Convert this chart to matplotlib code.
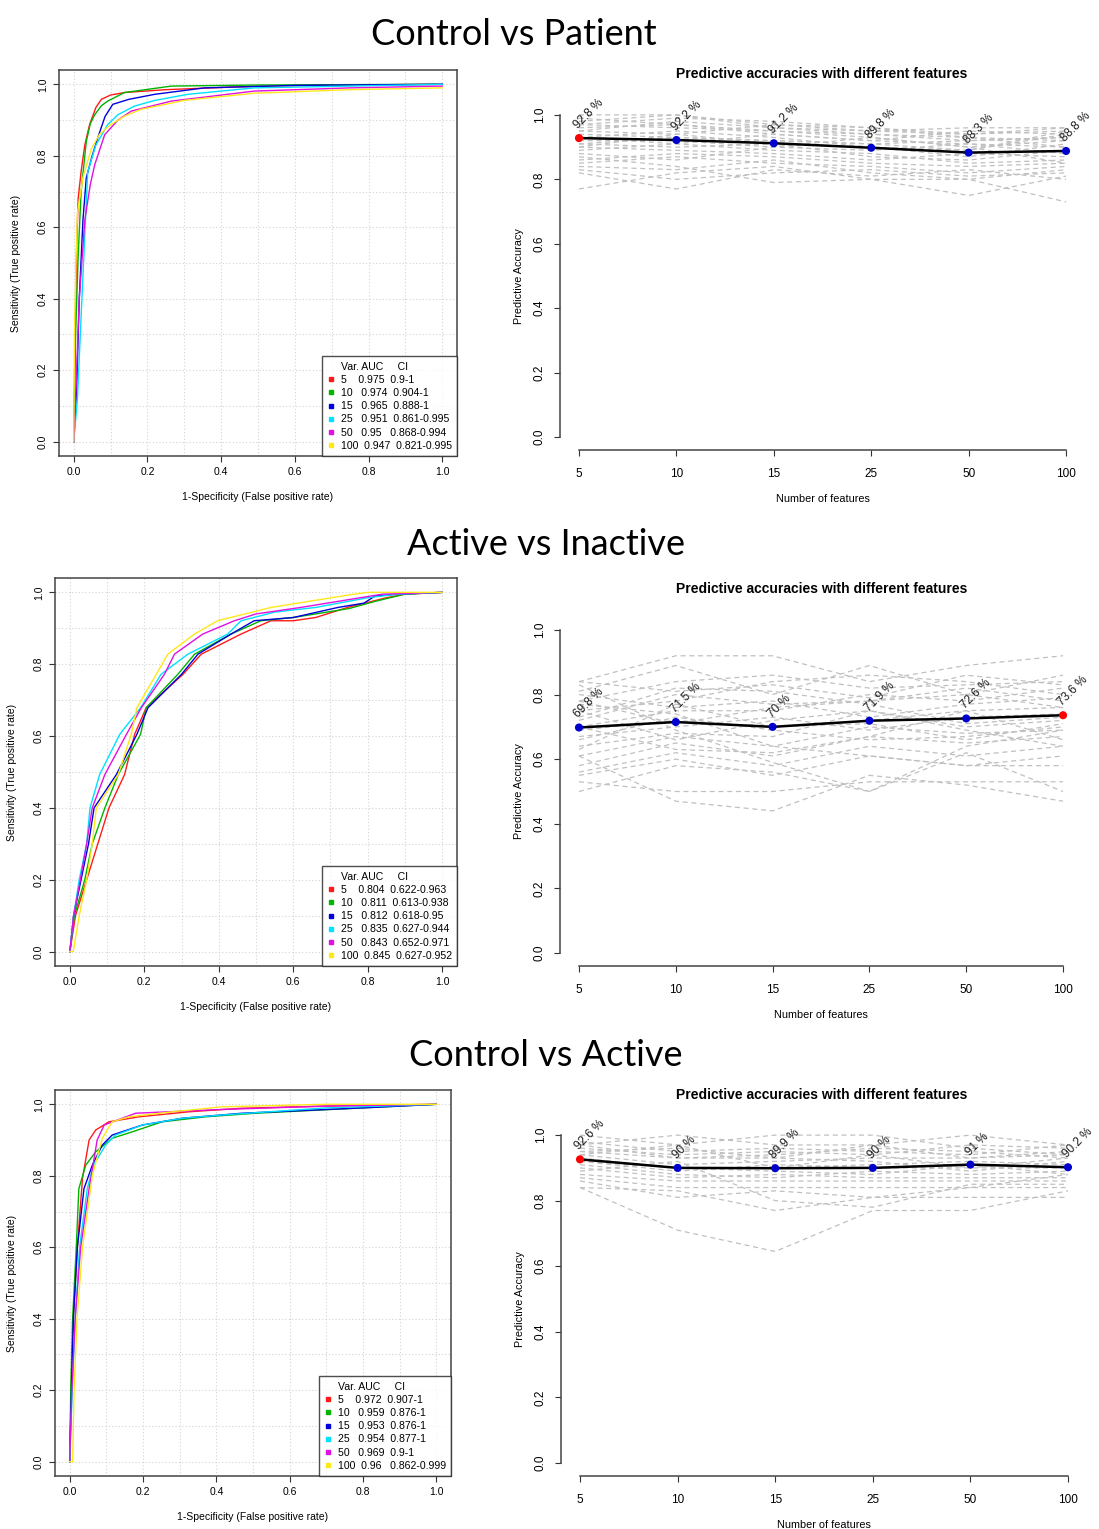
import numpy as np
import matplotlib
matplotlib.use("Agg")
from matplotlib import pyplot as plt
from matplotlib.lines import Line2D

W, H = 1099, 1529

plt.rcParams['font.family'] = ['Liberation Sans', 'DejaVu Sans']

panel_titles = ["Control vs Patient", "Active vs Inactive", "Control vs Active"]
n_features = ["5", "10", "15", "25", "50", "100"]
roc_colors = ["#FF1A1A", "#00B400", "#0000DC", "#00E1FF", "#E010E0", "#FFE81A"]

# ---- Control vs Patient ----
cp_auc = ["0.975", "0.974", "0.965", "0.951", "0.95", "0.947"]
cp_ci = ["0.9-1", "0.904-1", "0.888-1", "0.861-0.995", "0.868-0.994", "0.821-0.995"]
cp_fpr = [
    [0, 0.003, 0.008, 0.012, 0.02, 0.03, 0.043, 0.06, 0.075, 0.1, 0.138, 0.25, 0.45, 0.7, 1.0],
    [0, 0.005, 0.012, 0.02, 0.034, 0.045, 0.057, 0.075, 0.092, 0.138, 0.265, 0.5, 1.0],
    [0, 0.008, 0.015, 0.025, 0.034, 0.05, 0.065, 0.085, 0.106, 0.15, 0.22, 0.355, 0.6, 1.0],
    [0, 0.01, 0.02, 0.03, 0.038, 0.06, 0.092, 0.12, 0.165, 0.22, 0.31, 0.49, 0.75, 1.0],
    [0, 0.006, 0.015, 0.03, 0.045, 0.057, 0.084, 0.12, 0.156, 0.265, 0.49, 0.75, 1.0],
    [0, 0.002, 0.006, 0.01, 0.025, 0.048, 0.07, 0.1, 0.14, 0.183, 0.3, 0.49, 0.75, 1.0],
]
cp_tpr = [
    [0, 0.25, 0.55, 0.68, 0.756, 0.83, 0.887, 0.935, 0.958, 0.97, 0.977, 0.985, 0.993, 0.998, 1.0],
    [0, 0.3, 0.52, 0.7, 0.84, 0.89, 0.915, 0.94, 0.953, 0.977, 0.995, 0.998, 1.0],
    [0, 0.15, 0.4, 0.62, 0.738, 0.8, 0.85, 0.91, 0.944, 0.958, 0.972, 0.99, 0.997, 1.0],
    [0, 0.12, 0.35, 0.58, 0.755, 0.83, 0.887, 0.915, 0.939, 0.955, 0.972, 0.99, 0.995, 1.0],
    [0, 0.15, 0.4, 0.62, 0.72, 0.775, 0.859, 0.9, 0.925, 0.953, 0.981, 0.99, 0.995],
    [0, 0.3, 0.5, 0.64, 0.74, 0.82, 0.86, 0.887, 0.912, 0.93, 0.955, 0.975, 0.985, 0.99],
]
cp_acc = [92.8, 92.2, 91.2, 89.8, 88.3, 88.8]
cp_folds = [
    [1.00, 1.00, 0.97, 0.95, 0.94, 0.96],
    [0.98, 1.00, 0.96, 0.94, 0.92, 0.93],
    [0.97, 0.96, 0.95, 0.93, 0.90, 0.92],
    [0.96, 0.97, 0.94, 0.92, 0.95, 0.94],
    [0.95, 0.94, 0.97, 0.96, 0.93, 0.90],
    [0.94, 0.93, 0.92, 0.91, 0.89, 0.95],
    [0.93, 0.95, 0.93, 0.90, 0.87, 0.91],
    [0.92, 0.92, 0.90, 0.89, 0.91, 0.88],
    [0.91, 0.90, 0.91, 0.87, 0.86, 0.89],
    [0.90, 0.89, 0.88, 0.86, 0.88, 0.87],
    [0.89, 0.91, 0.89, 0.88, 0.85, 0.86],
    [0.86, 0.88, 0.87, 0.85, 0.84, 0.85],
    [0.85, 0.87, 0.85, 0.84, 0.82, 0.84],
    [0.84, 0.83, 0.86, 0.82, 0.80, 0.83],
    [0.83, 0.80, 0.82, 0.83, 0.81, 0.82],
    [0.77, 0.82, 0.84, 0.80, 0.75, 0.81],
    [0.82, 0.77, 0.83, 0.81, 0.83, 0.80],
    [0.87, 0.84, 0.79, 0.80, 0.80, 0.73],
    [0.95, 0.98, 0.96, 0.95, 0.96, 0.96],
    [0.97, 0.99, 0.98, 0.96, 0.94, 0.95],
    [0.91, 0.93, 0.92, 0.91, 0.92, 0.93],
    [0.88, 0.86, 0.90, 0.93, 0.90, 0.85],
    [0.99, 0.97, 0.95, 0.94, 0.93, 0.92],
    [0.93, 0.91, 0.94, 0.92, 0.91, 0.90],
    [0.90, 0.94, 0.91, 0.90, 0.89, 0.94],
]

# ---- Active vs Inactive ----
ai_auc = ["0.804", "0.811", "0.812", "0.835", "0.843", "0.845"]
ai_ci = ["0.622-0.963", "0.613-0.938", "0.618-0.95", "0.627-0.944", "0.652-0.971", "0.627-0.952"]
ai_fpr = [
    [0, 0.015, 0.045, 0.075, 0.105, 0.147, 0.174, 0.205, 0.304, 0.353, 0.46, 0.54, 0.6, 0.66, 0.746, 0.85, 0.9, 1.0],
    [0, 0.012, 0.04, 0.06, 0.094, 0.13, 0.19, 0.205, 0.29, 0.335, 0.433, 0.513, 0.6, 0.75, 0.82, 0.9, 1.0],
    [0, 0.01, 0.03, 0.05, 0.065, 0.125, 0.18, 0.21, 0.30, 0.344, 0.433, 0.495, 0.6, 0.72, 0.79, 0.82, 0.88, 1.0],
    [0, 0.01, 0.025, 0.045, 0.054, 0.08, 0.134, 0.19, 0.245, 0.317, 0.424, 0.46, 0.55, 0.66, 0.8, 0.88, 1.0],
    [0, 0.01, 0.028, 0.045, 0.06, 0.094, 0.152, 0.192, 0.254, 0.281, 0.357, 0.442, 0.5, 0.62, 0.78, 0.84, 1.0],
    [0, 0.009, 0.025, 0.045, 0.06, 0.071, 0.13, 0.165, 0.18, 0.232, 0.263, 0.335, 0.397, 0.54, 0.763, 0.8, 1.0],
]
ai_tpr = [
    [0, 0.1, 0.2, 0.3, 0.4, 0.493, 0.605, 0.679, 0.772, 0.828, 0.884, 0.921, 0.921, 0.93, 0.958, 0.985, 0.995, 1.0],
    [0, 0.1, 0.2, 0.3, 0.4, 0.493, 0.605, 0.679, 0.772, 0.828, 0.884, 0.921, 0.93, 0.955, 0.975, 0.995, 1.0],
    [0, 0.1, 0.2, 0.3, 0.4, 0.493, 0.605, 0.679, 0.772, 0.828, 0.884, 0.921, 0.93, 0.958, 0.97, 0.99, 0.995, 1.0],
    [0, 0.1, 0.2, 0.3, 0.4, 0.493, 0.605, 0.679, 0.772, 0.828, 0.884, 0.921, 0.945, 0.958, 0.985, 0.995, 1.0],
    [0, 0.1, 0.2, 0.3, 0.4, 0.493, 0.605, 0.679, 0.772, 0.828, 0.884, 0.921, 0.94, 0.958, 0.985, 0.995, 1.0],
    [0, 0.0, 0.1, 0.2, 0.3, 0.4, 0.493, 0.605, 0.679, 0.772, 0.828, 0.884, 0.921, 0.958, 0.995, 1.0, 1.0],
]
ai_acc = [69.8, 71.5, 70, 71.9, 72.6, 73.6]
ai_folds = [
    [0.84, 0.92, 0.92, 0.84, 0.89, 0.92],
    [0.81, 0.89, 0.80, 0.89, 0.80, 0.86],
    [0.78, 0.84, 0.86, 0.82, 0.83, 0.84],
    [0.75, 0.78, 0.84, 0.86, 0.84, 0.80],
    [0.72, 0.80, 0.77, 0.78, 0.82, 0.78],
    [0.70, 0.75, 0.75, 0.80, 0.78, 0.82],
    [0.69, 0.72, 0.70, 0.72, 0.75, 0.76],
    [0.67, 0.70, 0.73, 0.69, 0.73, 0.74],
    [0.64, 0.68, 0.67, 0.75, 0.70, 0.72],
    [0.61, 0.67, 0.64, 0.70, 0.68, 0.69],
    [0.58, 0.65, 0.61, 0.67, 0.65, 0.67],
    [0.56, 0.62, 0.58, 0.64, 0.61, 0.64],
    [0.55, 0.60, 0.55, 0.61, 0.58, 0.61],
    [0.50, 0.58, 0.56, 0.50, 0.64, 0.69],
    [0.53, 0.50, 0.50, 0.53, 0.53, 0.53],
    [0.61, 0.47, 0.44, 0.55, 0.52, 0.47],
    [0.83, 0.69, 0.59, 0.50, 0.62, 0.50],
    [0.77, 0.74, 0.64, 0.61, 0.58, 0.58],
    [0.80, 0.76, 0.78, 0.73, 0.77, 0.79],
    [0.73, 0.82, 0.81, 0.77, 0.71, 0.73],
    [0.66, 0.73, 0.69, 0.66, 0.67, 0.70],
    [0.75, 0.66, 0.72, 0.75, 0.69, 0.64],
    [0.84, 0.81, 0.83, 0.79, 0.86, 0.83],
    [0.70, 0.63, 0.62, 0.67, 0.75, 0.66],
    [0.78, 0.71, 0.76, 0.78, 0.80, 0.76],
    [0.63, 0.77, 0.70, 0.71, 0.66, 0.71],
]

# ---- Control vs Active ----
ca_auc = ["0.972", "0.959", "0.953", "0.954", "0.969", "0.96"]
ca_ci = ["0.907-1", "0.876-1", "0.876-1", "0.877-1", "0.9-1", "0.862-0.999"]
ca_fpr = [
    [0, 0.004, 0.01, 0.021, 0.035, 0.053, 0.071, 0.107, 0.189, 0.325, 0.47, 0.7, 1.0],
    [0, 0.003, 0.008, 0.018, 0.025, 0.044, 0.071, 0.116, 0.171, 0.252, 0.371, 0.507, 0.8, 1.0],
    [0, 0.005, 0.01, 0.021, 0.039, 0.062, 0.089, 0.116, 0.198, 0.307, 0.47, 0.8, 1.0],
    [0, 0.007, 0.015, 0.027, 0.048, 0.065, 0.098, 0.125, 0.198, 0.307, 0.416, 0.7, 1.0],
    [0, 0.006, 0.015, 0.03, 0.053, 0.075, 0.094, 0.18, 0.4, 0.7, 1.0],
    [0, 0.008, 0.012, 0.02, 0.035, 0.062, 0.089, 0.116, 0.162, 0.28, 0.416, 0.7, 1.0],
]
ca_tpr = [
    [0, 0.2, 0.4, 0.6, 0.793, 0.9, 0.928, 0.951, 0.965, 0.979, 0.989, 0.995, 1.0],
    [0, 0.2, 0.4, 0.6, 0.764, 0.83, 0.867, 0.905, 0.923, 0.951, 0.965, 0.975, 0.99, 1.0],
    [0, 0.2, 0.4, 0.6, 0.764, 0.83, 0.886, 0.914, 0.942, 0.961, 0.975, 0.99, 1.0],
    [0, 0.2, 0.4, 0.6, 0.764, 0.83, 0.886, 0.914, 0.942, 0.961, 0.97, 0.99, 1.0],
    [0, 0.2, 0.4, 0.6, 0.764, 0.9, 0.942, 0.975, 0.985, 0.995, 1.0],
    [0, 0.0, 0.2, 0.4, 0.6, 0.802, 0.905, 0.951, 0.965, 0.979, 0.993, 1.0, 1.0],
]
ca_acc = [92.6, 90, 89.9, 90, 91, 90.2]
ca_folds = [
    [1.00, 0.97, 1.00, 1.00, 0.96, 0.94],
    [0.97, 1.00, 0.97, 0.97, 1.00, 0.97],
    [0.96, 0.94, 0.95, 0.94, 0.97, 0.96],
    [0.95, 0.93, 0.94, 0.96, 0.95, 0.93],
    [0.94, 0.91, 0.92, 0.93, 0.93, 0.94],
    [0.93, 0.90, 0.90, 0.91, 0.92, 0.91],
    [0.92, 0.89, 0.91, 0.90, 0.90, 0.90],
    [0.91, 0.88, 0.87, 0.89, 0.88, 0.89],
    [0.90, 0.87, 0.88, 0.87, 0.87, 0.87],
    [0.88, 0.86, 0.86, 0.86, 0.86, 0.86],
    [0.87, 0.84, 0.84, 0.84, 0.84, 0.84],
    [0.86, 0.81, 0.83, 0.81, 0.81, 0.81],
    [0.84, 0.71, 0.645, 0.77, 0.77, 0.83],
    [0.84, 0.83, 0.77, 0.81, 0.84, 0.88],
    [0.89, 0.92, 0.80, 0.78, 0.85, 0.85],
    [0.95, 0.96, 0.93, 0.92, 0.89, 0.92],
    [0.98, 0.95, 0.96, 0.95, 0.94, 0.97],
    [0.92, 0.90, 0.89, 0.88, 0.91, 0.88],
    [0.97, 0.93, 0.93, 0.97, 0.93, 0.95],
    [0.94, 0.97, 0.90, 0.94, 0.90, 0.93],
]

# pixel boxes (left, right, top, bottom) and title positions
roc_boxes = [(59, 457, 70, 456), (55, 457, 578, 966), (55, 451, 1090, 1476)]
acc_boxes = [(559.5, 1085.5, 102, 450), (559.6, 1082.4, 617, 966), (560.5, 1087.5, 1122, 1476)]
big_title_pos = [(514, 45), (546, 555), (546, 1066)]
sub_title_y = [78, 593, 1099]


def add_px_axes(fig, box):
    l, r, t, b = box
    return fig.add_axes([l / W, 1 - b / H, (r - l) / W, (b - t) / H])


def draw_roc(ax, fpr, tpr, auc, ci):
    for i in range(len(fpr)):
        ax.plot(fpr[i], tpr[i], color=roc_colors[i], lw=1.0)
    ax.set_xlim(-0.04, 1.04)
    ax.set_ylim(-0.04, 1.04)
    ax.set_xticks(np.arange(0, 1.01, 0.2))
    ax.set_yticks(np.arange(0, 1.01, 0.2))
    ax.set_xticks(np.arange(0, 1.01, 0.1), minor=True)
    ax.set_yticks(np.arange(0, 1.01, 0.1), minor=True)
    ax.grid(True, which='both', color='#d3d3d3', ls=(0, (1, 2)), lw=0.8)
    ax.set_axisbelow(True)
    ax.tick_params(which='minor', length=0)
    ax.tick_params(which='major', length=4, width=0.8, color='#333333', labelsize=7.5, pad=4)
    ax.set_xticklabels(["0.0", "0.2", "0.4", "0.6", "0.8", "1.0"])
    ax.set_yticklabels(["0.0", "0.2", "0.4", "0.6", "0.8", "1.0"], rotation=90, va='center')
    for s in ax.spines.values():
        s.set_color('#444444')
        s.set_linewidth(1.1)
    ax.set_xlabel("1-Specificity (False positive rate)", fontsize=7.5, labelpad=11)
    ax.set_ylabel("Sensitivity (True positive rate)", fontsize=7.5, labelpad=12)
    handles = [Line2D([], [], ls='none')]
    labels = ["Var. AUC     CI"]
    for i in range(len(fpr)):
        handles.append(Line2D([], [], ls='none', marker='s', ms=3.2, color=roc_colors[i]))
        labels.append(f"{n_features[i]:<5}{auc[i]:<7}{ci[i]}")
    leg = ax.legend(handles, labels, loc='lower right', fontsize=7.6, frameon=True, fancybox=False,
                    borderaxespad=0, handlelength=0.8, handletextpad=0.5, labelspacing=0.3,
                    borderpad=0.5)
    leg.get_frame().set_edgecolor('#222222')
    leg.get_frame().set_linewidth(1.0)


def draw_acc(ax, acc, folds):
    x = np.arange(1, len(acc) + 1)
    for f in folds:
        ax.plot(x, f, color='#c0c0c0', ls=(0, (4, 3)), lw=0.9)
    vals = np.array(acc) / 100
    ax.plot(x, vals, color='black', lw=1.8)
    best = int(np.argmax(vals))
    cols = ['mediumblue'] * len(vals)
    cols[best] = 'red'
    ax.scatter(x, vals, s=34, c=cols, zorder=5, edgecolors='none')
    for i in range(len(vals)):
        ax.annotate(f"{acc[i]:g} %", (x[i], vals[i]), xytext=(1, 5), textcoords='offset points',
                    rotation=45, rotation_mode='anchor', ha='left', va='bottom', fontsize=8.5,
                    color='#1a1a1a')
    ax.set_xlim(0.8, 6.2)
    ax.set_ylim(-0.04, 1.04)
    ax.set_xticks(x)
    ax.set_xticklabels(n_features)
    ax.set_yticks(np.arange(0, 1.01, 0.2))
    ax.set_yticklabels(["0.0", "0.2", "0.4", "0.6", "0.8", "1.0"], rotation=90, va='center')
    ax.spines['top'].set_visible(False)
    ax.spines['right'].set_visible(False)
    ax.spines['left'].set_bounds(0, 1)
    ax.spines['bottom'].set_bounds(1, 6)
    for s in ['left', 'bottom']:
        ax.spines[s].set_color('#444444')
        ax.spines[s].set_linewidth(1.1)
    ax.tick_params(axis='x', length=4, width=0.8, color='#333333', labelsize=8.5, pad=9)
    ax.tick_params(axis='y', length=4, width=0.8, color='#333333', labelsize=8.5, pad=6)
    ax.set_xlabel("Number of features", fontsize=7.8, labelpad=10)
    ax.set_ylabel("Predictive Accuracy", fontsize=7.8, labelpad=7)


fig = plt.figure(figsize=(W / 100, H / 100), dpi=100)

roc_data = [(cp_fpr, cp_tpr, cp_auc, cp_ci), (ai_fpr, ai_tpr, ai_auc, ai_ci), (ca_fpr, ca_tpr, ca_auc, ca_ci)]
acc_data = [(cp_acc, cp_folds), (ai_acc, ai_folds), (ca_acc, ca_folds)]

for k in range(3):
    ax1 = add_px_axes(fig, roc_boxes[k])
    draw_roc(ax1, *roc_data[k])
    ax2 = add_px_axes(fig, acc_boxes[k])
    draw_acc(ax2, *acc_data[k])
    tx, ty = big_title_pos[k]
    fig.text(tx / W, 1 - ty / H, panel_titles[k], ha='center', va='baseline',
             fontsize=26, family=['Lato', 'DejaVu Sans'])
    fig.text(822 / W, 1 - sub_title_y[k] / H, "Predictive accuracies with different features",
             ha='center', va='baseline', fontsize=10, fontweight='bold')

fig.savefig("out.png", dpi=100)
